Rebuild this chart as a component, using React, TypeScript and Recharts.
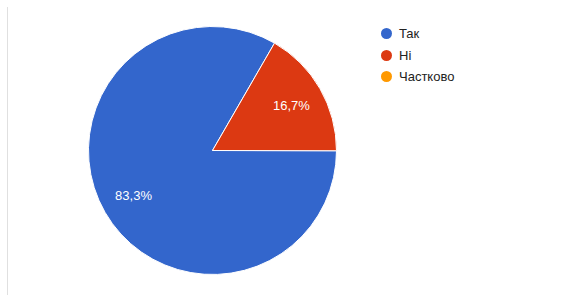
import { PieChart, Pie, Cell } from "recharts";

const categories = ["Так", "Ні", "Частково"];
const shares = [83.3, 16.7, 0];
const colors = ["#3366cc", "#dc3912", "#ff9900"];

const data = categories.map((name, i) => ({ name, value: shares[i] }));

const RADIAN = Math.PI / 180;

const renderLabel = ({ cx, cy, midAngle, outerRadius, value }: any) => {
  if (!value) return null;
  const r = outerRadius * 0.735;
  const x = cx + r * Math.cos(-midAngle * RADIAN);
  const y = cy + r * Math.sin(-midAngle * RADIAN);
  return (
    <text
      x={x}
      y={y}
      fill="#ffffff"
      fontSize={13}
      textAnchor="middle"
      dominantBaseline="central"
      fontFamily="'Liberation Sans', Arial, sans-serif"
    >
      {value.toFixed(1).replace(".", ",")}%
    </text>
  );
};

const LegendList = () => (
  <div
    style={{
      position: "absolute",
      left: 381,
      top: 23,
      fontFamily: "'Liberation Sans', Arial, sans-serif",
      fontSize: 13,
      color: "#222",
    }}
  >
    {categories.map((name, i) => (
      <div key={name} style={{ display: "flex", alignItems: "center", height: 21.5 }}>
        <span
          style={{
            width: 11,
            height: 11,
            borderRadius: "50%",
            background: colors[i],
            display: "inline-block",
            marginRight: 7,
          }}
        />
        <span>{name}</span>
      </div>
    ))}
  </div>
);

export default function App() {
  return (
    <div style={{ position: "absolute", left: 0, top: 0, width: 573, height: 295, background: "#fff" }}>
      <div
        style={{
          position: "absolute",
          left: 7,
          top: 7,
          width: 1,
          height: 288,
          background: "#e0e0e0",
        }}
      />
      <PieChart width={573} height={295} margin={{ top: 0, right: 0, bottom: 0, left: 0 }}>
        <Pie
          data={data}
          dataKey="value"
          nameKey="name"
          cx={212.5}
          cy={150.5}
          outerRadius={124}
          startAngle={60}
          endAngle={420}
          stroke="#ffffff"
          strokeWidth={1}
          label={renderLabel}
          labelLine={false}
          isAnimationActive={false}
        >
          {data.map((entry, i) => (
            <Cell key={`cell-${i}`} fill={colors[i]} />
          ))}
        </Pie>
      </PieChart>
      <LegendList />
    </div>
  );
}
